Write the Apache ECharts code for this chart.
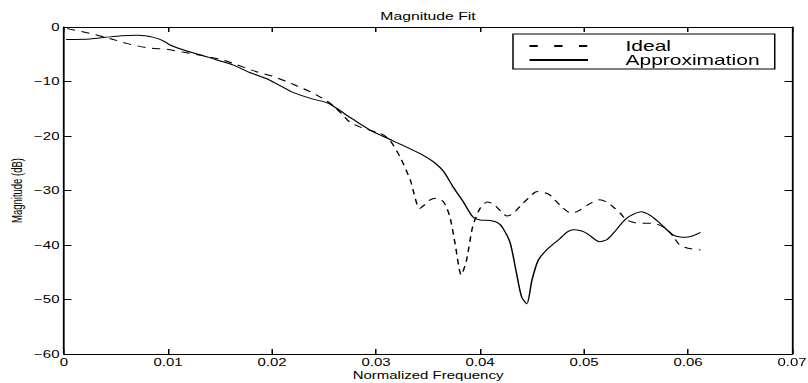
<!DOCTYPE html>
<html>
<head>
<meta charset="utf-8">
<script src="https://cdn.jsdelivr.net/npm/echarts@6/dist/echarts.min.js"></script>
<style>
  html, body { margin: 0; padding: 0; background: #fff; overflow: hidden; }
  #chart { width: 538.667px; height: 383px; transform: scaleX(1.5); transform-origin: 0 0; }
</style>
</head>
<body>
<div id="chart"></div>
<script>
// Desired (ideal) magnitude response
const idealFreq = [0.0003, 0.0028, 0.0044, 0.006, 0.008, 0.0099, 0.0114, 0.0134, 0.015, 0.0163,
  0.0185, 0.02, 0.0214, 0.023, 0.0243, 0.0256, 0.0268, 0.0275, 0.0288, 0.0304,
  0.0313, 0.0323, 0.0333, 0.0342, 0.0347, 0.0352, 0.0358, 0.0365, 0.0371, 0.0376,
  0.0382, 0.0387, 0.0393, 0.04, 0.0407, 0.0413, 0.042, 0.0426, 0.0432, 0.0438,
  0.0446, 0.0455, 0.0462, 0.0467, 0.0477, 0.0488, 0.0495, 0.0503, 0.0515, 0.0522,
  0.0528, 0.0535, 0.0541, 0.0552, 0.0567, 0.058, 0.0586, 0.0592, 0.06, 0.0612];
const idealDb = [-0.3, -1.3, -2.1, -3.0, -3.8, -4.1, -4.6, -5.3, -5.9, -6.7,
  -8.2, -9.0, -10.0, -11.3, -12.5, -14.0, -16.1, -17.5, -18.6, -19.5,
  -20.7, -23.8, -28.1, -33.3, -32.6, -31.7, -31.4, -32.1, -34.8, -39.7,
  -45.5, -42.8, -36.6, -33.3, -32.1, -32.5, -33.8, -34.7, -34.2, -33.0,
  -31.5, -30.2, -30.4, -30.8, -32.7, -34.2, -33.7, -32.7, -31.7, -32.1,
  -33.0, -34.2, -35.4, -36.0, -36.0, -37.2, -38.5, -40.0, -40.6, -40.9];

// Filter approximation magnitude response
const approxFreq = [0.0002, 0.0025, 0.004, 0.0055, 0.007, 0.0078, 0.0086, 0.0095, 0.0102, 0.0118,
  0.0131, 0.0146, 0.0163, 0.0178, 0.0195, 0.0205, 0.0214, 0.022, 0.0237, 0.0253,
  0.0262, 0.0275, 0.0285, 0.0297, 0.0313, 0.033, 0.0345, 0.0355, 0.0365, 0.0374,
  0.0384, 0.0393, 0.04, 0.041, 0.0417, 0.0422, 0.0429, 0.0435, 0.044, 0.0445,
  0.045, 0.0456, 0.0464, 0.0477, 0.0484, 0.049, 0.0497, 0.0503, 0.0515, 0.0522,
  0.0528, 0.0541, 0.0555, 0.0564, 0.0573, 0.0586, 0.0597, 0.0605, 0.0612];
const approxDb = [-2.3, -2.2, -1.9, -1.6, -1.5, -1.6, -1.9, -2.5, -3.3, -4.4,
  -5.1, -6.0, -7.0, -8.3, -9.5, -10.5, -11.4, -12.0, -13.1, -13.9,
  -14.9, -16.6, -17.8, -19.2, -20.6, -22.1, -23.5, -24.7, -26.5, -29.3,
  -32.1, -34.8, -35.4, -35.5, -35.9, -36.9, -39.6, -45.1, -49.5, -50.8,
  -46.4, -42.8, -40.9, -38.8, -37.6, -37.2, -37.4, -37.9, -39.4, -39.0,
  -37.9, -35.1, -33.9, -34.6, -36.0, -38.2, -38.6, -38.3, -37.7];

const xTicks = [0, 0.01, 0.02, 0.03, 0.04, 0.05, 0.06, 0.07];
const yTicks = [-60, -50, -40, -30, -20, -10, 0];

const seriesNames = ['Ideal', 'Approximation'];

const FONT = 'Liberation Sans, Arial, Helvetica, sans-serif';
const pairs = (xs, ys) => xs.map((x, i) => [x, ys[i]]);
const fmtX = v => (Math.abs(v) < 1e-9 ? '0' : String(+v.toFixed(2)));
const fmtY = v => String(Math.round(v)).replace('-', '\u2212');

const xMin = xTicks[0], xMax = xTicks[xTicks.length - 1], xStep = xTicks[1] - xTicks[0];
const yMin = yTicks[0], yMax = yTicks[yTicks.length - 1], yStep = yTicks[1] - yTicks[0];

// axis lines stay on the plot frame, ticks point into the plot
const frameLine = () => ({ show: true, onZero: false, lineStyle: { color: '#000', width: 1.2 } });
const innerTicks = () => ({ show: true, inside: true, length: 5, lineStyle: { color: '#000', width: 1 } });

const xScale = () => ({ type: 'value', min: xMin, max: xMax, interval: xStep, splitLine: { show: false } });
const yScale = () => ({ type: 'value', min: yMin, max: yMax, interval: yStep, splitLine: { show: false } });

const chart = echarts.init(document.getElementById('chart'), null, {
  renderer: 'svg', width: 808 / 1.5, height: 383
});

chart.setOption({
  animation: false,
  backgroundColor: '#fff',
  textStyle: { fontFamily: FONT, color: '#000' },
  title: {
    text: 'Magnitude Fit',
    left: 285.3,
    textAlign: 'center',
    top: 11,
    padding: 0,
    textStyle: { fontFamily: FONT, fontSize: 10.5, fontWeight: 'normal', color: '#000' }
  },
  legend: {
    data: [
      { name: seriesNames[0], lineStyle: { type: [5.5, 11] } },
      { name: seriesNames[1] }
    ],
    orient: 'vertical',
    left: 342,
    top: 34,
    padding: [5, 10, 2, 10],
    itemGap: 0,
    itemWidth: 39,
    itemHeight: 12,
    borderColor: '#000',
    borderWidth: 1,
    backgroundColor: '#fff',
    itemStyle: { opacity: 0 },
    textStyle: { fontFamily: FONT, fontSize: 14, color: '#000', padding: [0, 0, 0, 20] }
  },
  grid: {
    left: 42.667, right: 10.667, top: 27, bottom: 29,
    containLabel: false, outerBoundsMode: 'none'
  },
  xAxis: [
    Object.assign(xScale(), {
      position: 'bottom', axisLine: frameLine(), axisTick: innerTicks(),
      axisLabel: { formatter: fmtX, fontFamily: FONT, fontSize: 10, color: '#000', margin: 3 },
      name: 'Normalized Frequency', nameLocation: 'middle', nameGap: 16, nameMoveOverlap: false,
      nameTextStyle: { fontFamily: FONT, fontSize: 10, color: '#000' }
    }),
    Object.assign(xScale(), {
      position: 'top', axisLine: frameLine(), axisTick: innerTicks(), axisLabel: { show: false }
    })
  ],
  yAxis: [
    Object.assign(yScale(), {
      position: 'left', axisLine: frameLine(), axisTick: innerTicks(),
      axisLabel: { formatter: fmtY, fontFamily: FONT, fontSize: 10, color: '#000', margin: 3 },
      name: 'Magnitude (dB)', nameLocation: 'middle', nameRotate: 90, nameGap: 26, nameMoveOverlap: false,
      nameTextStyle: { fontFamily: FONT, fontSize: 9.5, color: '#000' }
    }),
    Object.assign(yScale(), {
      position: 'right', axisLine: frameLine(), axisTick: innerTicks(), axisLabel: { show: false }
    })
  ],
  series: [{
    name: seriesNames[0], type: 'line', symbol: 'none', showSymbol: false, smooth: 0.25,
    xAxisIndex: 0, yAxisIndex: 0, data: pairs(idealFreq, idealDb),
    itemStyle: { color: '#000' },
    lineStyle: { color: '#000', width: 1, type: [5.5, 4.5] }
  }, {
    name: seriesNames[1], type: 'line', symbol: 'none', showSymbol: false, smooth: 0.25,
    xAxisIndex: 0, yAxisIndex: 0, data: pairs(approxFreq, approxDb),
    itemStyle: { color: '#000' },
    lineStyle: { color: '#000', width: 1 }
  }]
});
</script>
</body>
</html>
